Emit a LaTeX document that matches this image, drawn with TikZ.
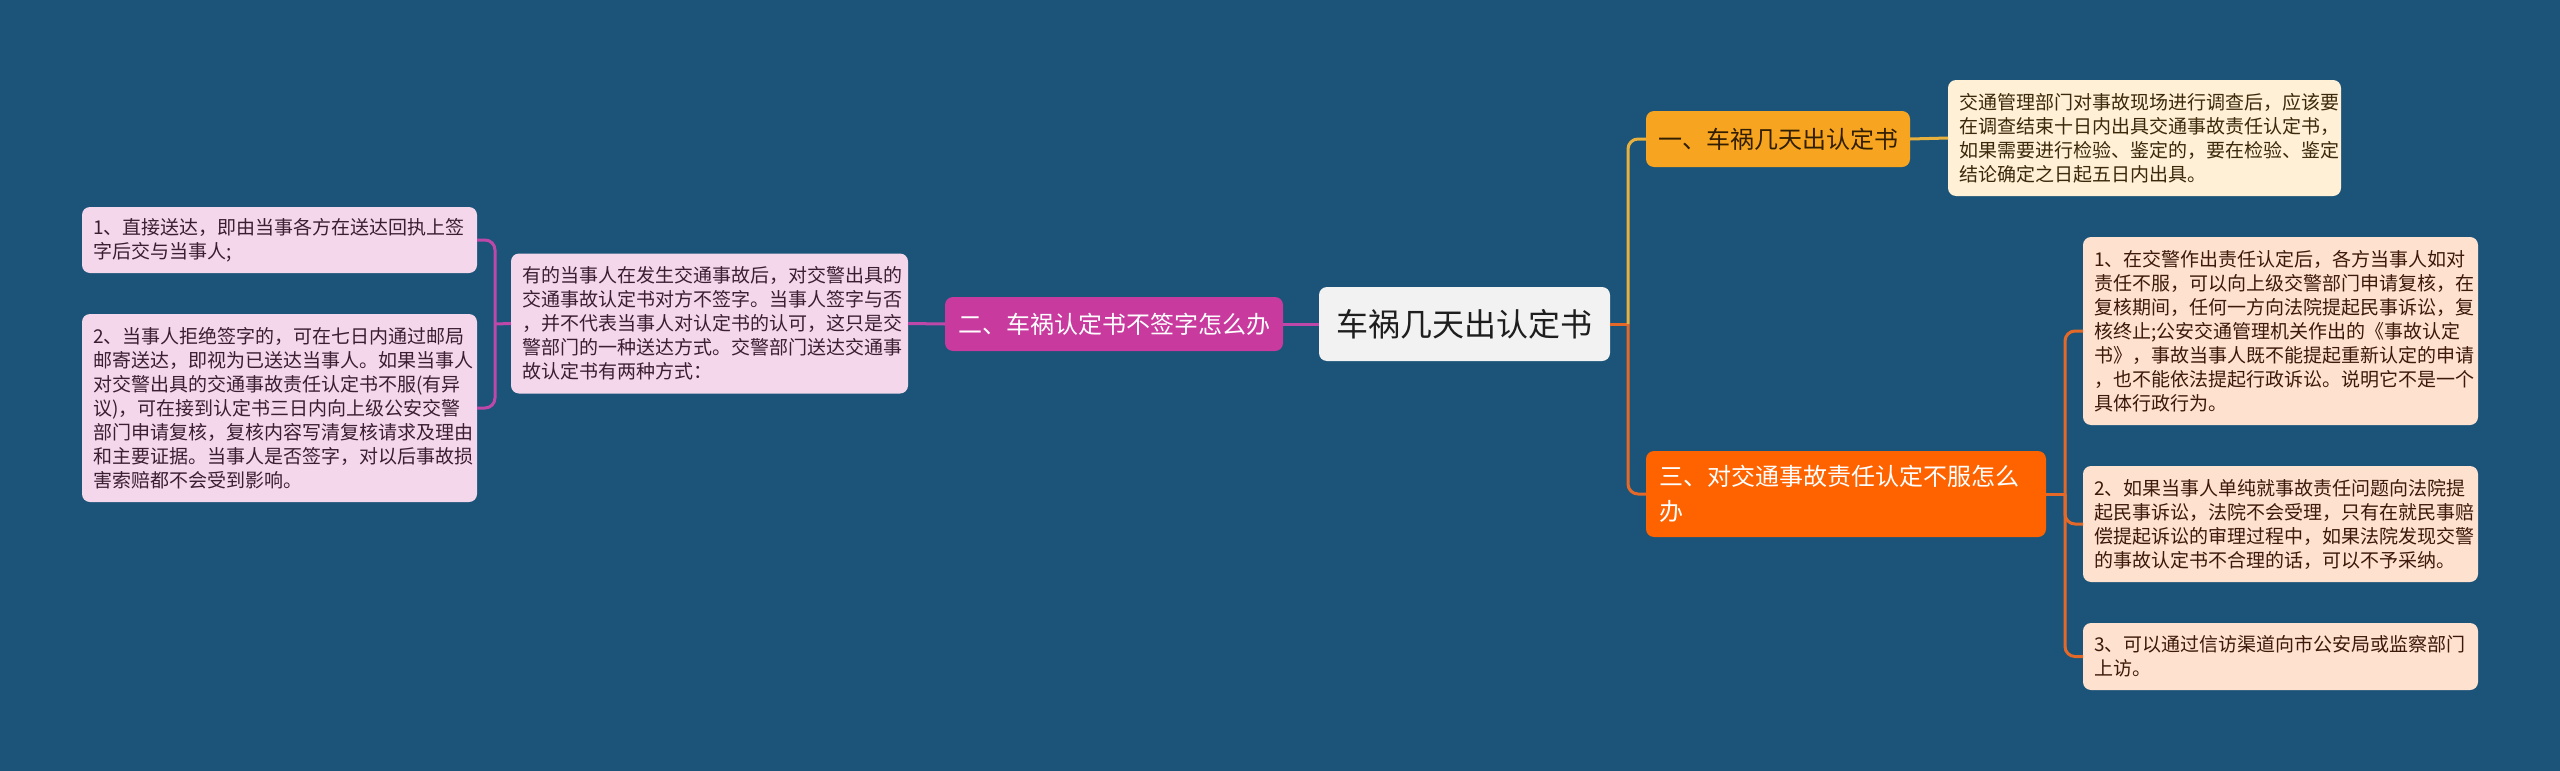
\documentclass[tikz,border=0pt]{standalone}
\usepackage{fontspec}
\setmainfont{Noto Sans CJK SC}
\definecolor{bg}{RGB}{27,84,120}
\definecolor{rootfill}{RGB}{242,242,242}
\definecolor{roottext}{RGB}{30,30,30}
\definecolor{magfill}{RGB}{200,58,158}
\definecolor{magline}{RGB}{190,72,170}
\definecolor{pinkfill}{RGB}{245,215,236}
\definecolor{pinktext}{RGB}{60,30,50}
\definecolor{yelfill}{RGB}{247,165,33}
\definecolor{yeltext}{RGB}{50,30,0}
\definecolor{yelline}{RGB}{232,176,60}
\definecolor{creamfill}{RGB}{255,240,214}
\definecolor{creamtext}{RGB}{60,40,10}
\definecolor{orfill}{RGB}{255,99,0}
\definecolor{orline}{RGB}{228,105,40}
\definecolor{peachfill}{RGB}{255,225,208}
\definecolor{peachtext}{RGB}{60,25,10}
\newcommand\leaffont{\fontsize{19}{24}\selectfont}
\newcommand\branchfont{\fontsize{24}{35}\selectfont}
\newcommand\rootfont{\fontsize{32}{40}\selectfont}
\begin{document}
\begin{tikzpicture}[x=1pt,y=-1pt,
  box/.style={rounded corners=8pt, inner ysep=0pt, outer sep=0pt},
  leafbox/.style={box, font=\leaffont, align=left, inner xsep=11pt, text width=#1-22pt},
  branchbox/.style={box, font=\branchfont, align=center},
  conn/.style={line width=3pt, rounded corners=10pt},
]
\useasboundingbox (0,0) rectangle (2560,771);
\fill[bg] (0,0) rectangle (2560,771);

% root
\node[box, fill=rootfill, text=roottext, font=\rootfont, minimum width=291pt, minimum height=74pt] (root) at (1464.5,324) {车祸几天出认定书};

% left branch
\node[branchbox, fill=magfill, text=white, minimum width=338pt, minimum height=54pt] (b2) at (1114,324) {二、车祸认定书不签字怎么办};
\node[leafbox=397pt, fill=pinkfill, text=pinktext, minimum height=140pt] (m) at (709.5,323.5) {有的当事人在发生交通事故后，对交警出具的\\交通事故认定书对方不签字。当事人签字与否\\，并不代表当事人对认定书的认可，这只是交\\警部门的一种送达方式。交警部门送达交通事\\故认定书有两种方式：};
\node[leafbox=395pt, fill=pinkfill, text=pinktext, minimum height=66pt] (l1) at (279.5,240) {1、直接送达，即由当事各方在送达回执上签\\字后交与当事人;};
\node[leafbox=395pt, fill=pinkfill, text=pinktext, minimum height=188pt] (l2) at (279.5,408) {2、当事人拒绝签字的，可在七日内通过邮局\\邮寄送达，即视为已送达当事人。如果当事人\\对交警出具的交通事故责任认定书不服(有异\\议)，可在接到认定书三日内向上级公安交警\\部门申请复核，复核内容写清复核请求及理由\\和主要证据。当事人是否签字，对以后事故损\\害索赔都不会受到影响。};

% right branch 1
\node[branchbox, fill=yelfill, text=yeltext, minimum width=264pt, minimum height=56pt] (b1) at (1778,139) {一、车祸几天出认定书};
\node[leafbox=393pt, fill=creamfill, text=creamtext, minimum height=116pt] (t1) at (2144.5,138) {交通管理部门对事故现场进行调查后，应该要\\在调查结束十日内出具交通事故责任认定书，\\如果需要进行检验、鉴定的，要在检验、鉴定\\结论确定之日起五日内出具。};

% right branch 3
\node[box, fill=orfill, text=white, font=\branchfont, align=left, inner xsep=13pt, text width=374pt, minimum height=86pt] (b3) at (1846,494) {三、对交通事故责任认定不服怎么\\办};
\node[leafbox=395pt, fill=peachfill, text=peachtext, minimum height=188pt] (r1) at (2280.5,331) {1、在交警作出责任认定后，各方当事人如对\\责任不服，可以向上级交警部门申请复核，在\\复核期间，任何一方向法院提起民事诉讼，复\\核终止;公安交通管理机关作出的《事故认定\\书》，事故当事人既不能提起重新认定的申请\\，也不能依法提起行政诉讼。说明它不是一个\\具体行政行为。};
\node[leafbox=395pt, fill=peachfill, text=peachtext, minimum height=116pt] (r2) at (2280.5,524) {2、如果当事人单纯就事故责任问题向法院提\\起民事诉讼，法院不会受理，只有在就民事赔\\偿提起诉讼的审理过程中，如果法院发现交警\\的事故认定书不合理的话，可以不予采纳。};
\node[leafbox=395pt, fill=peachfill, text=peachtext, minimum height=67pt] (r3) at (2280.5,656.5) {3、可以通过信访渠道向市公安局或监察部门\\上访。};

% junctions
\coordinate (jr) at (1628,324);
\coordinate (jl) at (495,324);
\coordinate (j3) at (2065,494);

% connectors
\draw[conn, magline] (root.west) -- (b2.east);
\draw[conn, magline] (b2.west) -- (m.east);
\draw[conn, magline] (m.west) -- (jl);
\draw[conn, magline] (jl) |- (l1.east);
\draw[conn, magline] (jl) |- (l2.east);

\draw[conn, orline] (root.east) -- (jr);
\draw[conn, yelline] (jr) |- (b1.west);
\draw[conn, orline] (jr) |- (b3.west);
\draw[conn, yelline] (b1.east) -- (t1.west);

\draw[conn, orline] (b3.east) -- (j3);
\draw[conn, orline] (j3) |- (r1.west);
\draw[conn, orline] (j3) |- (r2.west);
\draw[conn, orline] (j3) |- (r3.west);
\end{tikzpicture}
\end{document}
